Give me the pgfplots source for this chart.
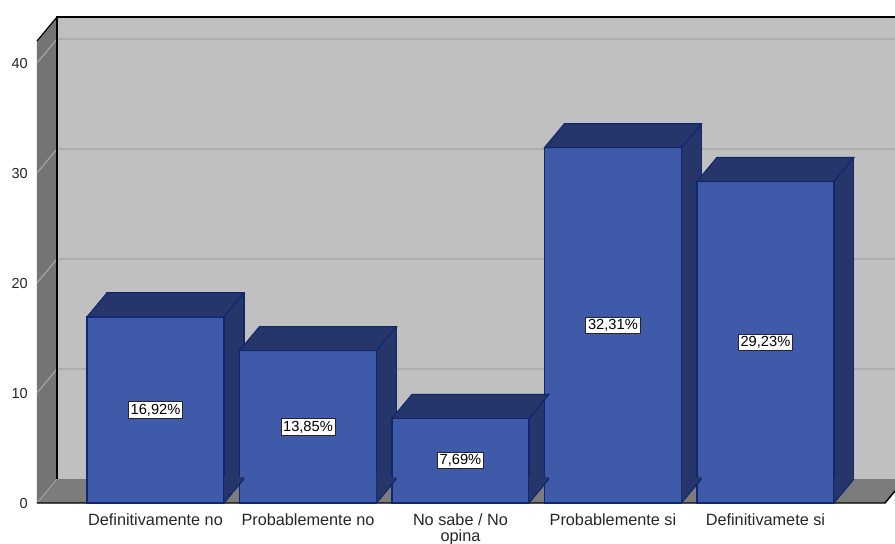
\documentclass[border=0pt]{standalone}
\usepackage{pgfplots}
\pgfplotsset{compat=1.18}
\usepackage{pgfplotstable}
\usepackage{fontspec}
\setmainfont{Liberation Sans}
\definecolor{barfront}{HTML}{3E5AA8}
\definecolor{bardark}{HTML}{26356A}
\definecolor{baredge}{HTML}{0F2770}
\definecolor{wall}{HTML}{C0C0C0}
\definecolor{wallgrid}{HTML}{AEAEAE}
\definecolor{sidewall}{HTML}{747474}
\definecolor{floorc}{HTML}{7C7C7C}
\definecolor{sidegrid}{HTML}{A8A8A8}

\pgfplotstableread{
x v
0 16.92
1 13.85
2 7.69
3 32.31
4 29.23
}\data

% top face of a bar (fixed size, at the bar top)
\pgfdeclareplotmark{topface}{%
  \pgfpathmoveto{\pgfqpoint{-51.375pt}{0pt}}%
  \pgfpathlineto{\pgfqpoint{-36.375pt}{18pt}}%
  \pgfpathlineto{\pgfqpoint{66.375pt}{18pt}}%
  \pgfpathlineto{\pgfqpoint{51.375pt}{0pt}}%
  \pgfpathclose\pgfusepathqfillstroke}
% lower corner of the side face (at the bar foot)
\pgfdeclareplotmark{footface}{%
  \pgfpathmoveto{\pgfqpoint{51.375pt}{0pt}}%
  \pgfpathlineto{\pgfqpoint{66.375pt}{18pt}}%
  \pgfpathlineto{\pgfqpoint{66.375pt}{19.5pt}}%
  \pgfpathlineto{\pgfqpoint{51.375pt}{19.5pt}}%
  \pgfpathclose\pgfusepathqfill
  \pgfpathmoveto{\pgfqpoint{51.375pt}{0pt}}%
  \pgfpathlineto{\pgfqpoint{66.375pt}{18pt}}%
  \pgfusepathqstroke}

\begin{document}
\begin{tikzpicture}
\begin{axis}[
  at={(0,0)}, anchor=south west,
  width=636pt, height=346.5pt, scale only axis,
  xmin=-0.777, xmax=4.784, ymin=0, ymax=42,
  clip=false,
  axis line style={draw=none},
  major tick length=0pt,
  xtick={0,1,2,3,4},
  xticklabels={Definitivamente no, Probablemente no, {No sabe / No\\opina}, Probablemente si, Definitivamete si},
  ytick={0,10,20,30,40},
  /pgf/number format/assume math mode=true,
  yticklabel style={font=\fontsize{10.9}{12}\selectfont, inner sep=0pt, xshift=-6.75pt, text=black!85},
  xticklabel style={font=\fontsize{12.2}{11.5}\selectfont, align=center, inner sep=0pt, yshift=-8pt, text=black!85},
]
% back wall
\fill[wall] ([xshift=15pt,yshift=18pt]rel axis cs:0,0) rectangle ([xshift=15pt,yshift=18pt]rel axis cs:1,1);
\pgfplotsinvokeforeach{10,20,30,40}{
  \draw[wallgrid, line width=0.9pt] ([xshift=15pt,yshift=18pt]axis cs:-0.777,#1) -- ([xshift=15pt,yshift=18pt]axis cs:4.784,#1);
}
% left wall
\fill[sidewall] (rel axis cs:0,0) -- ([xshift=15pt,yshift=18pt]rel axis cs:0,0) -- ([xshift=15pt,yshift=18pt]rel axis cs:0,1) -- (rel axis cs:0,1) -- cycle;
\pgfplotsinvokeforeach{10,20,30,40}{
  \draw[sidegrid, line width=0.8pt] (axis cs:-0.777,#1) -- ++(15pt,18pt);
}
% floor
\fill[floorc] (rel axis cs:0,0) -- ([xshift=15pt,yshift=18pt]rel axis cs:0,0) -- ([xshift=15pt,yshift=18pt]rel axis cs:1,0) -- (rel axis cs:1,0) -- cycle;
\draw[sidegrid, line width=0.6pt] (rel axis cs:0,0) -- ++(15pt,18pt);
% frame lines
\draw[black, line width=1.3pt] ([xshift=15pt,yshift=18pt]rel axis cs:0,0) -- ([xshift=15pt,yshift=18pt]rel axis cs:0,1) -- ([xshift=15pt,yshift=18pt]rel axis cs:1,1);
\draw[black, line width=0.9pt] (rel axis cs:0,1) -- ++(15pt,18pt);
\draw[black, line width=1.1pt] (rel axis cs:0,0) -- (rel axis cs:1,0) -- ++(15pt,18pt);

% bars: back rectangles (depth)
\addplot[ybar, bar width=102.75pt, bar shift=0pt, fill=bardark, draw=baredge, line width=0.8pt, xshift=15pt, yshift=18pt]
  table[x=x, y=v] {\data};
% lower corner of side faces
\addplot[only marks, mark=footface, mark options={fill=bardark, draw=baredge, line width=0.8pt}]
  table[x=x, y expr=0] {\data};
% top faces
\addplot[only marks, mark=topface, mark options={fill=bardark, draw=baredge, line width=0.8pt}]
  table[x=x, y=v] {\data};
% front faces
\addplot[ybar, bar width=102.75pt, bar shift=0pt, fill=barfront, draw=baredge, line width=1pt]
  table[x=x, y=v] {\data};
% value labels
\addplot[draw=none, mark=none, point meta=explicit,
  nodes near coords={\pgfmathprintnumber[fixed, fixed zerofill, precision=2, use comma]{\pgfplotspointmeta}\%},
  every node near coord/.append style={anchor=center, fill=white, draw=black!85, line width=0.7pt, inner sep=1.6pt,
    font=\fontsize{11}{12}\selectfont, text=black}]
  table[x=x, y expr=\thisrow{v}/2, meta=v] {\data};
\end{axis}
\pgfresetboundingbox
\useasboundingbox (-27.75pt,-30pt) rectangle (643.5pt,377.25pt);
\end{tikzpicture}
\end{document}
